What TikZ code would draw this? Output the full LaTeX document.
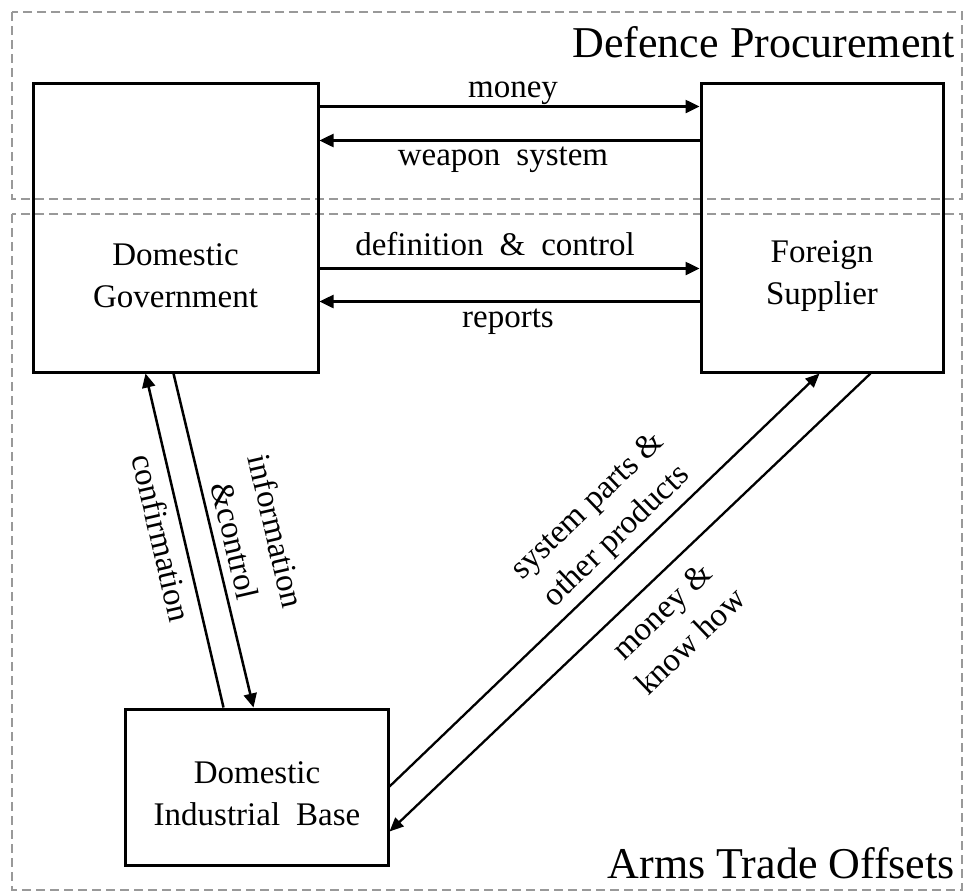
\documentclass[tikz,border=0pt]{standalone}
\usepackage{fontspec}
\setmainfont{Liberation Serif}
\usetikzlibrary{arrows.meta}
\newcommand\bigsp{\hspace{16pt}}
\begin{document}
\begin{tikzpicture}[x=1pt,y=-1pt,
  frame/.style={draw=black!40, line width=2.6pt, dash pattern=on 9pt off 5pt},
  box/.style={draw, line width=3pt, inner sep=0pt},
  arr/.style={line width=2.5pt, -{Triangle[length=14pt,width=13pt]}},
  darr/.style={line width=2.3pt, -{Triangle[length=14pt,width=12pt]}},
  lbl/.style={inner sep=0pt, font=\fontsize{33}{42}\selectfont, align=center},
  ttl/.style={inner sep=0pt, font=\fontsize{44}{50}\selectfont}]
\useasboundingbox (0,0) rectangle (964,892);
% dashed regions
\draw[frame] (12,12) rectangle (962,199);
\draw[frame] (12,214) rectangle (962,890);
\node[ttl, anchor=base east] (tdp) at (955,57) {Defence Procurement};
\node[ttl, anchor=base east] (tato) at (955,878) {Arms Trade Offsets};
% boxes
\node[box, minimum width=285pt, minimum height=289pt] (gov) at (175.5,227.5) {};
\node[box, minimum width=242pt, minimum height=289pt] (sup) at (822,227.5) {};
\node[box, minimum width=263pt, minimum height=156pt] (ind) at (256.5,787) {};
\node[lbl] (tgov) at (175.5,276) {Domestic\\Government};
\node[lbl] (tsup) at (822,276) {Foreign\\Supplier};
\node[lbl] (tind) at (257,794) {Domestic\\Industrial\bigsp Base};
% horizontal flows
\draw[arr] ([yshift=-25pt]gov.north east) -- ([yshift=-25pt]sup.north west);
\draw[arr] ([yshift=-59pt]sup.north west) -- ([yshift=-59pt]gov.north east);
\draw[arr] ([yshift=-187pt]gov.north east) -- ([yshift=-187pt]sup.north west);
\draw[arr] ([yshift=-220pt]sup.north west) -- ([yshift=-220pt]gov.north east);
\node[lbl, anchor=base] (lmoney) at (513,97) {money};
\node[lbl, anchor=base] (lweapon) at (503,165) {weapon\bigsp system};
\node[lbl, anchor=base] (ldef) at (495,255) {definition\bigsp\&\bigsp control};
\node[lbl, anchor=base] (lrep) at (508,327) {reports};
% government <-> industry
\draw[arr] ([xshift=100pt]ind.north west) -- ([xshift=114pt]gov.south west);
\draw[arr] ([xshift=142pt]gov.south west) -- ([xshift=130pt]ind.north west);
\node[lbl, rotate=-77] (lconf) at (162,538) {confirmation};
\node[lbl, rotate=-77] (linfo) at (256,536) {information\\\&control};
% industry <-> supplier
\draw[darr] ([yshift=-79pt]ind.north east) -- ([xshift=120pt]sup.south west);
\draw[darr] ([xshift=171pt]sup.south west) -- ([yshift=-124pt]ind.north east);
\node[lbl, rotate=43.8] (lsys) at (603,522) {system parts \&\\other products};
\node[lbl, rotate=43.8] (lmon) at (676,626) {money \&\\know how};
\end{tikzpicture}
\end{document}
